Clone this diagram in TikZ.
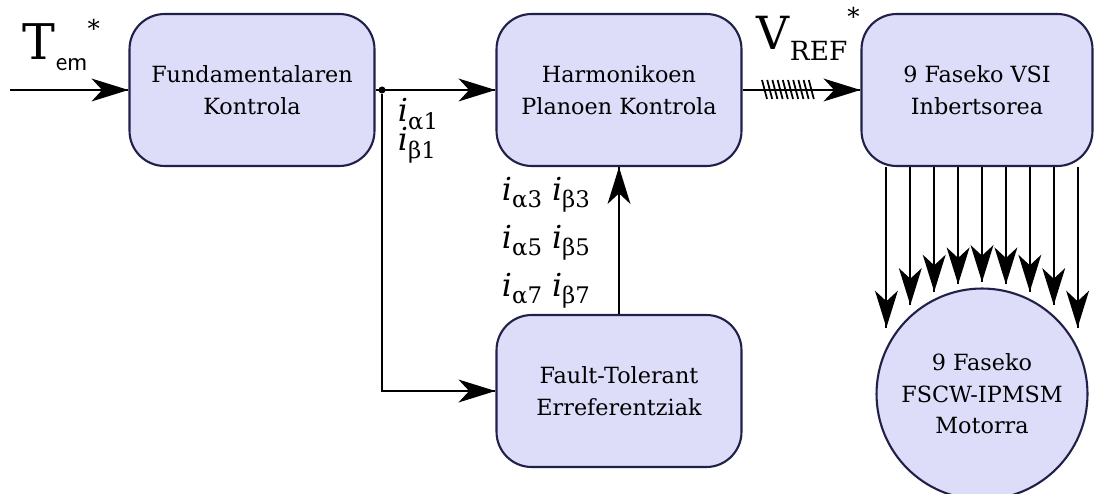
\documentclass[tikz,border=0pt]{standalone}
\usepackage{fontspec}
\setmainfont{DejaVu Serif}
\usepackage{tikz}
\usetikzlibrary{arrows.meta}
\usetikzlibrary{decorations.markings}
\usetikzlibrary{positioning}
\definecolor{blockfill}{RGB}{221,221,250}
\definecolor{blockline}{RGB}{32,32,72}
\tikzset{->/.style = {decoration={markings,
                                  mark=at position 1 with {\arrow{Stealth[length=21pt,width=13pt,inset=6pt]}}},
                      postaction={decorate}}}
\tikzset{circ/.style = {fill, circle, inner sep = 0, minimum size = 4pt}}
\tikzset{block/.style = {draw = blockline, fill = blockfill, line width = 1.2pt,
                         rounded corners = 20pt, minimum width = 4.9cm, minimum height = 3.04cm,
                         align = center, font = \fontsize{12.7}{18}\selectfont}}
\tikzset{lbl/.style = {anchor = base west, inner sep = 0}}
\newcommand{\icur}[1]{\textit{i}\raisebox{-4pt}{\fontsize{13}{13}\selectfont #1}}

\begin{document}
\begin{tikzpicture}[x=0.02cm, y=-0.02cm, line width=1.1pt]
      \useasboundingbox (0, 0) rectangle (1094, 493);

      \node (fund) at (252, 90) [block] {Fundamentalaren\\Kontrola};
      \node (harm) at (619, 90) [block] {Harmonikoen\\Planoen Kontrola};
      \node (vsi) at (977, 90) [block, minimum width = 4.62cm] {9 Faseko VSI\\Inbertsorea};
      \node (ft) at (619, 391) [block] {Fault-Tolerant\\Erreferentziak};
      \node (motor) at (982, 394) [block, circle, minimum size = 4.22cm] {9 Faseko\\FSCW-IPMSM\\Motorra};

      \coordinate (in) at (10, 90);
      \node (split) at (382, 90) [circ] {};

      \draw [->] (in) -- (fund.west);
      \draw [->] (fund.east) -- (harm.west);
      \draw [->] (split) |- (ft.west);
      \draw [->] (ft.north) -- (harm.south);
      \draw [->] (harm.east) -- (vsi.west);

      % hatch on the reference bus
      \foreach \h in {0,...,9}
        \draw [line width = 1pt] (762 + 5.2*\h, 80) -- (767 + 5.2*\h, 99);

      % nine phases
      \foreach \k in {-4,...,4} {
        \pgfmathsetmacro{\px}{982 + 23.9*\k}
        \pgfmathsetmacro{\py}{405 - sqrt(123^2 - (23.9*\k)^2)}
        \coordinate (top) at (\px, 0);
        \draw [->] (vsi.south -| top) -- (\px, \py);
      }

      \node (tem) at (22, 60) [lbl] {\fontsize{28}{28}\selectfont T\raisebox{-6pt}{\fontsize{15}{15}\sffamily em}\raisebox{13pt}{\fontsize{14}{14}\selectfont *}};
      \node (vref) at (756, 50) [lbl] {\fontsize{26}{26}\selectfont V\raisebox{-6pt}{\fontsize{15}{15}\selectfont REF}\raisebox{14pt}{\fontsize{14}{14}\selectfont *}};

      \node (ia1) at (397, 122) [lbl] {\fontsize{18}{18}\selectfont\icur{α1}};
      \node (ib1) at (397, 151) [lbl] {\fontsize{18}{18}\selectfont\icur{β1}};
      \node (ab3) at (501, 200) [lbl] {\fontsize{18}{18}\selectfont\icur{α3} \icur{β3}};
      \node (ab5) at (501, 248) [lbl] {\fontsize{18}{18}\selectfont\icur{α5} \icur{β5}};
      \node (ab7) at (501, 296) [lbl] {\fontsize{18}{18}\selectfont\icur{α7} \icur{β7}};
    \end{tikzpicture}
\end{document}
